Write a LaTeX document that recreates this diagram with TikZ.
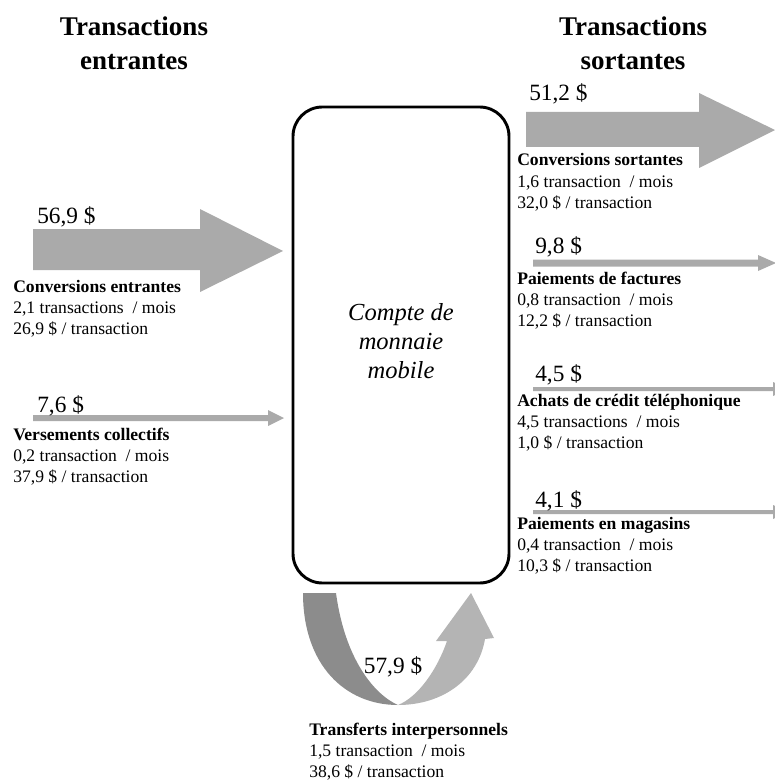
\documentclass[tikz,border=0pt]{standalone}
\usepackage{fontspec}
\setmainfont{Liberation Serif}
\begin{document}
\begin{tikzpicture}[x=0.75pt,y=-0.75pt,
  ttl/.style={font=\fontsize{20.25}{24}\selectfont\bfseries, anchor=base, inner sep=0},
  val/.style={font=\fontsize{17.5}{21}\selectfont, anchor=base west, inner sep=0},
  hd/.style={font=\fontsize{13.2}{15.5}\selectfont\bfseries, anchor=base west, inner sep=0},
  txt/.style={font=\fontsize{13.2}{15.5}\selectfont, anchor=base west, inner sep=0},
  big/.style={fill=arrowgray, draw=none},
  darkband/.style={fill=loopdark, draw=none},
  lightband/.style={fill=looplight, draw=none}]
\definecolor{arrowgray}{RGB}{170,170,170}
\definecolor{loopdark}{RGB}{140,140,140}
\definecolor{looplight}{RGB}{180,180,180}
\useasboundingbox (0,0) rectangle (774,781);

% titles
\node[ttl] (t1a) at (134,36) {Transactions};
\node[ttl] (t1b) at (134,70) {entrantes};
\node[ttl] (t2a) at (633,36) {Transactions};
\node[ttl] (t2b) at (633,70) {sortantes};

% central account box
\node[draw, rounded corners=22pt, line width=2.2pt, minimum width=162pt, minimum height=357pt, inner sep=0] (acct) at (401,345) {};
\node[font=\fontsize{18.4}{21.75}\selectfont\itshape, align=center, inner sep=0, anchor=base] (acctlbl) at (401,378) {Compte de\\monnaie\\mobile};

% incoming: conversions entrantes (big arrow)
\fill[big] (33,229) -- (200,229) -- (200,209) -- (283,251) -- (200,292) -- (200,270) -- (33,270) -- cycle;
\node[val] (v1) at (37,223) {56,9 \$};
\node[hd] (h1) at (13,292) {Conversions entrantes};
\node[txt] (a1) at (13,313) {2,1 transactions~ / mois};
\node[txt] (b1) at (13,334) {26,9 \$ / transaction};

% incoming: versements collectifs
\fill[big] (33,415) -- (268,415) -- (268,410) -- (284,418) -- (268,426) -- (268,421) -- (33,421) -- cycle;
\node[val] (v2) at (37,412) {7,6 \$};
\node[hd] (h2) at (13,440) {Versements collectifs};
\node[txt] (a2) at (13,461) {0,2 transaction~ / mois};
\node[txt] (b2) at (13,482) {37,9 \$ / transaction};

% outgoing: conversions sortantes
\fill[big] (526,112) -- (699,112) -- (699,93) -- (775,130) -- (699,168) -- (699,147) -- (526,147) -- cycle;
\node[val] (v3) at (529,101) {51,2 \$};
\node[hd] (h3) at (517,166) {Conversions sortantes};
\node[txt] (a3) at (517,187) {1,6 transaction~ / mois};
\node[txt] (b3) at (517,208) {32,0 \$ / transaction};

% outgoing: paiements de factures
\fill[big] (533,259.5) -- (758,259.5) -- (758,255) -- (776,263) -- (758,271) -- (758,266.5) -- (533,266.5) -- cycle;
\node[val] (v4) at (535,253) {9,8 \$};
\node[hd] (h4) at (517,284) {Paiements de factures};
\node[txt] (a4) at (517,305) {0,8 transaction~ / mois};
\node[txt] (b4) at (517,326) {12,2 \$ / transaction};

% outgoing: achats de credit telephonique
\fill[big] (533,387) -- (773,387) -- (773,382) -- (787,389) -- (773,396) -- (773,391) -- (533,391) -- cycle;
\node[val] (v5) at (535,381) {4,5 \$};
\node[hd] (h5) at (517,406) {Achats de crédit téléphonique};
\node[txt] (a5) at (517,427) {4,5 transactions~ / mois};
\node[txt] (b5) at (517,448) {1,0 \$ / transaction};

% outgoing: paiements en magasins
\fill[big] (533,510) -- (773,510) -- (773,505) -- (787,512) -- (773,519) -- (773,514) -- (533,514) -- cycle;
\node[val] (v6) at (535,507) {4,1 \$};
\node[hd] (h6) at (517,529) {Paiements en magasins};
\node[txt] (a6) at (517,550) {0,4 transaction~ / mois};
\node[txt] (b6) at (517,571) {10,3 \$ / transaction};

% loop: transferts interpersonnels
\fill[darkband] (303,593) .. controls (303,665) and (345,705) .. (398,705)
  .. controls (375,695) and (345,660) .. (336,593) -- cycle;
\fill[lightband] (398,705) .. controls (442,705) and (478,680) .. (485,639)
  -- (494,638) -- (471,593) -- (436,641) -- (447,641)
  .. controls (437,670) and (418,697) .. (398,705) -- cycle;
\node[val, anchor=base] (v7) at (393,673) {57,9 \$};
\node[hd] (h7) at (309,735) {Transferts interpersonnels};
\node[txt] (a7) at (309,756) {1,5 transaction~ / mois};
\node[txt] (b7) at (309,777) {38,6 \$ / transaction};
\end{tikzpicture}
\end{document}
